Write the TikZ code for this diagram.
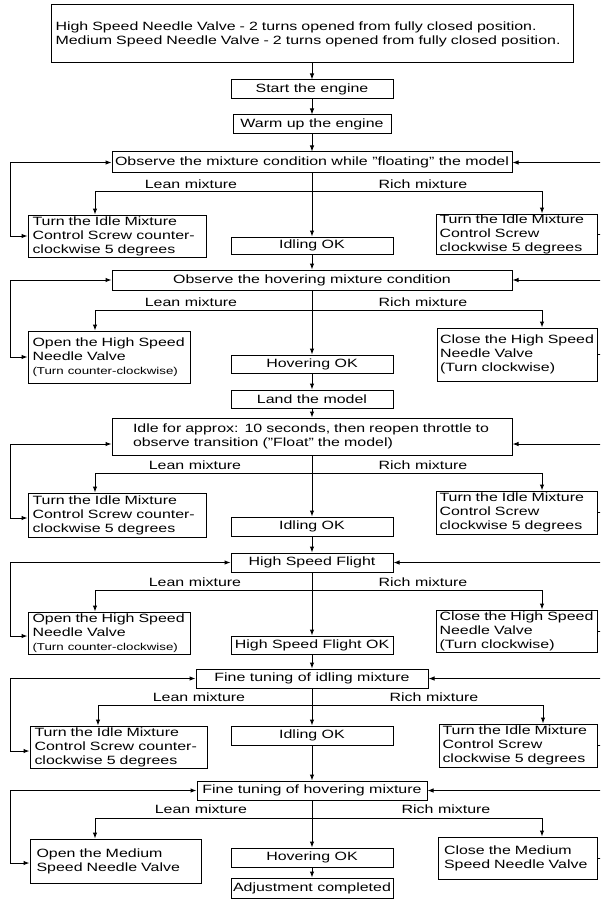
\documentclass[tikz,border=0pt]{standalone}
\usepackage{fontspec}
\setmainfont{Liberation Sans}[FakeStretch=1.33]
\usetikzlibrary{arrows.meta}
\tikzset{
  bx/.style={draw, line width=1pt, inner sep=0pt, font=\fontsize{12}{14}\selectfont, align=center},
  lbl/.style={inner sep=0pt, font=\fontsize{12}{14}\selectfont},
  conn/.style={line width=1pt},
}
\newcommand\mkbox[7][]{\node[bx,minimum width={#5pt-#3pt},minimum height={#6pt-#4pt},#1] (#2) at ({(#3+#5)/2},{(#4+#6)/2}) {#7};}
\newcommand\smalltxt[1]{{\fontsize{10}{12}\selectfont #1}}
\begin{document}
\begin{tikzpicture}[x=1pt,y=-1pt,>={Latex[length=6pt,width=4.5pt]}]
\useasboundingbox (0,0) rectangle (600,904);
\clip (0,0) rectangle (600,904);
\coordinate (lx) at (10.7,0);
\coordinate (rx) at (612,0);

% top part
\mkbox[align=left,inner xsep=4.5pt,text width=513pt]{top}{51}{5}{573}{63}{\mbox{High Speed Needle Valve - 2 turns opened from fully closed position.}\\\mbox{Medium Speed Needle Valve - 2 turns opened from fully closed position.}}
\mkbox{start}{231}{80}{393}{99}{Start the engine}
\mkbox{warm}{233}{115}{391}{134}{Warm up the engine}

% section 1
\mkbox{obs1}{112}{152}{512}{173}{Observe the mixture condition while "floating" the model}
\mkbox[align=left,inner xsep=4.5pt,text width=169pt]{L1}{28}{215}{206}{257}{\mbox{Turn the Idle Mixture}\\\makebox[169pt][s]{Control Screw counter-}\\\mbox{clockwise 5 degrees}}
\mkbox[align=left,inner xsep=3.5pt,text width=154pt]{R1}{436}{214}{597}{254}{\mbox{Turn the Idle Mixture}\\\mbox{Control Screw}\\\mbox{clockwise 5 degrees}}
\mkbox{ok1}{231}{237}{393}{254}{Idling OK}
\node[lbl] (la1) at (191,184) {Lean mixture};
\node[lbl] (ra1) at (423,184) {Rich mixture};

% section 2
\mkbox{obs2}{112}{270}{512}{290}{Observe the hovering mixture condition}
\mkbox[align=left,inner xsep=4.5pt,text width=153pt]{L2}{28}{331}{190}{383}{\mbox{Open the High Speed}\\\mbox{Needle Valve}\\\mbox{\smalltxt{(Turn counter-clockwise)}}}
\mkbox[align=left,inner xsep=3pt,text width=154pt]{R2}{437}{328}{597}{381}{\mbox{Close the High Speed}\\\mbox{Needle Valve}\\\mbox{(Turn clockwise)}}
\mkbox{hov1}{231}{355}{393}{373}{Hovering OK}
\mkbox{land}{231}{390}{393}{408}{Land the model}
\node[lbl] (la2) at (191,302) {Lean mixture};
\node[lbl] (ra2) at (423,302) {Rich mixture};

% section 3
\mkbox[align=left,inner xsep=21pt,text width=358pt]{idle}{112}{418}{512}{455}{\mbox{Idle for approx: 10 seconds, then reopen throttle to}\\\mbox{observe transition ("Float" the model)}}
\mkbox[align=left,inner xsep=4.5pt,text width=169pt]{L3}{28}{493}{206}{537}{\mbox{Turn the Idle Mixture}\\\makebox[169pt][s]{Control Screw counter-}\\\mbox{clockwise 5 degrees}}
\mkbox[align=left,inner xsep=3.5pt,text width=154pt]{R3}{436}{491}{597}{534}{\mbox{Turn the Idle Mixture}\\\mbox{Control Screw}\\\mbox{clockwise 5 degrees}}
\mkbox{ok2}{231}{517}{393}{536}{Idling OK}
\node[lbl] (la3) at (195,465) {Lean mixture};
\node[lbl] (ra3) at (423,465) {Rich mixture};

% section 4
\mkbox{hsf}{231}{553}{393}{572}{High Speed Flight}
\mkbox[align=left,inner xsep=4.5pt,text width=153pt]{L4}{28}{612}{190}{654}{\mbox{Open the High Speed}\\\mbox{Needle Valve}\\\mbox{\smalltxt{(Turn counter-clockwise)}}}
\mkbox[align=left,inner xsep=3pt,text width=154pt]{R4}{436}{610}{597}{652}{\mbox{Close the High Speed}\\\mbox{Needle Valve}\\\mbox{(Turn clockwise)}}
\mkbox{hsfok}{231}{636}{393}{654}{High Speed Flight OK}
\node[lbl] (la4) at (195,582) {Lean mixture};
\node[lbl] (ra4) at (423,582) {Rich mixture};

% section 5
\mkbox{fidle}{196}{669}{428}{688}{Fine tuning of idling mixture}
\mkbox[align=left,inner xsep=4.5pt,text width=168pt]{L5}{30}{726}{207}{768}{\mbox{Turn the Idle Mixture}\\\makebox[168pt][s]{Control Screw counter-}\\\mbox{clockwise 5 degrees}}
\mkbox[align=left,inner xsep=3.5pt,text width=151pt]{R5}{439}{724}{597}{767}{\mbox{Turn the Idle Mixture}\\\mbox{Control Screw}\\\mbox{clockwise 5 degrees}}
\mkbox{ok3}{231}{726}{393}{745}{Idling OK}
\node[lbl] (la5) at (199,697) {Lean mixture};
\node[lbl] (ra5) at (434,697) {Rich mixture};

% section 6
\mkbox{fhov}{197}{781}{427}{800}{Fine tuning of hovering mixture}
\mkbox[align=left,inner xsep=6.5pt,text width=158pt]{L6}{30}{839}{201}{883}{\mbox{Open the Medium}\\\mbox{Speed Needle Valve}}
\mkbox[align=left,inner xsep=6pt,text width=147pt]{R6}{438}{837}{597}{879}{\mbox{Close the Medium}\\\mbox{Speed Needle Valve}}
\mkbox{hov2}{231}{848}{393}{867}{Hovering OK}
\mkbox{adj}{231}{878}{393}{898}{Adjustment completed}
\node[lbl] (la6) at (201,809) {Lean mixture};
\node[lbl] (ra6) at (446,809) {Rich mixture};

% main flow
\draw[conn,->] (top) -- (start);
\draw[conn,->] (start) -- (warm);
\draw[conn,->] (warm) -- (obs1);
\draw[conn,->] (obs1) -- (ok1);
\draw[conn,->] (ok1) -- (obs2);
\draw[conn,->] (obs2) -- (hov1);
\draw[conn,->] (hov1) -- (land);
\draw[conn,->] (land) -- (idle);
\draw[conn,->] (idle) -- (ok2);
\draw[conn,->] (ok2) -- (hsf);
\draw[conn,->] (hsf) -- (hsfok);
\draw[conn,->] (hsfok) -- (fidle);
\draw[conn,->] (fidle) -- (ok3);
\draw[conn,->] (ok3) -- (fhov);
\draw[conn,->] (fhov) -- (hov2);
\draw[conn,->] (hov2) -- (adj);

% branches
\coordinate (b1l) at (95,191);  \coordinate (b1r) at (542,191);
\coordinate (b2l) at (95,310);  \coordinate (b2r) at (542,310);
\coordinate (b3l) at (95,473);  \coordinate (b3r) at (542,473);
\coordinate (b4l) at (95,590);  \coordinate (b4r) at (542,590);
\coordinate (b5l) at (98,705);  \coordinate (b5r) at (543,705);
\coordinate (b6l) at (95,818);  \coordinate (b6r) at (542,818);
\draw[conn,<->] (b1l |- L1.north) -- (b1l) -- (b1r) -- (b1r |- R1.north);
\draw[conn,<->] (b2l |- L2.north) -- (b2l) -- (b2r) -- (b2r |- R2.north);
\draw[conn,<->] (b3l |- L3.north) -- (b3l) -- (b3r) -- (b3r |- R3.north);
\draw[conn,<->] (b4l |- L4.north) -- (b4l) -- (b4r) -- (b4r |- R4.north);
\draw[conn,<->] (b5l |- L5.north) -- (b5l) -- (b5r) -- (b5r |- R5.north);
\draw[conn,<->] (b6l |- L6.north) -- (b6l) -- (b6r) -- (b6r |- R6.north);

% left loops
\draw[conn,<->] (L1.west) -- (L1.west -| lx) |- (obs1.west);
\draw[conn,<->] (L2.west) -- (L2.west -| lx) |- (obs2.west);
\draw[conn,<->] ([yshift=-3pt]L3.west) -- ([yshift=-3pt]L3.west -| lx) |- ([yshift=-7.5pt]idle.west);
\draw[conn,<->] ([yshift=-3pt]L4.west) -- ([yshift=-3pt]L4.west -| lx) |- (hsf.west);
\draw[conn,<->] ([yshift=-4pt]L5.west) -- ([yshift=-4pt]L5.west -| lx) |- (fidle.west);
\draw[conn,<->] ([yshift=-2pt]L6.west) -- ([yshift=-2pt]L6.west -| lx) |- (fhov.west);

% right loops
\draw[conn,->] (R1.east) -- (R1.east -| rx) |- (obs1.east);
\draw[conn,->] (R2.east) -- (R2.east -| rx) |- (obs2.east);
\draw[conn,->] (R3.east) -- (R3.east -| rx) |- ([yshift=-7.5pt]idle.east);
\draw[conn,->] (R4.east) -- (R4.east -| rx) |- (hsf.east);
\draw[conn,->] (R5.east) -- (R5.east -| rx) |- (fidle.east);
\draw[conn,->] (R6.east) -- (R6.east -| rx) |- (fhov.east);
\end{tikzpicture}
\end{document}
